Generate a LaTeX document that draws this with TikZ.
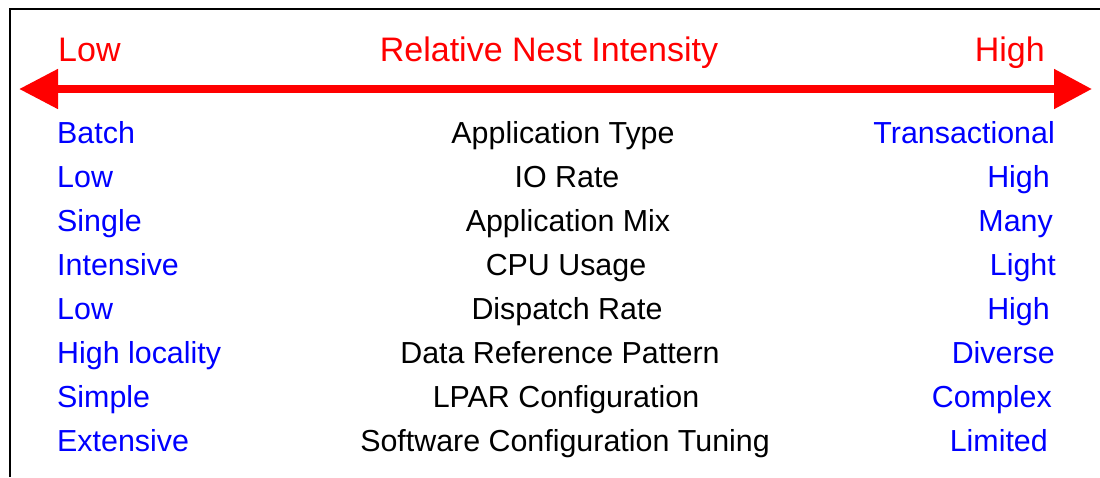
\documentclass[tikz,border=0pt]{standalone}
\usepackage{fontspec}
\setmainfont{Liberation Sans}
\usetikzlibrary{arrows.meta}
\definecolor{pureblue}{RGB}{0,0,255}
\definecolor{purered}{RGB}{255,0,0}
\tikzset{
  hdr/.style={inner sep=0pt, text=purered, font=\fontsize{34}{40}\selectfont},
  lft/.style={inner sep=0pt, anchor=base west, text=pureblue, font=\fontsize{30.4}{36}\selectfont},
  rgt/.style={inner sep=0pt, anchor=base east, text=pureblue, font=\fontsize{30.4}{36}\selectfont},
  mid/.style={inner sep=0pt, anchor=base, text=black, font=\fontsize{30.4}{36}\selectfont},
  bigarrow/.style={draw=purered, line width=8pt,
    {Triangle[length=39pt,width=38pt]}-{Triangle[length=38pt,width=38pt]}},
  frame/.style={draw=black, line width=2pt}
}
\begin{document}
\begin{tikzpicture}[x=1pt,y=-1pt]
\useasboundingbox (0,0) rectangle (1100,477);
\draw[frame] (10,477) -- (10,9) -- (1100,9);
% header
\node[hdr, anchor=base west] (hlow) at (58,61) {Low};
\node[hdr, anchor=base] (htitle) at (549,61) {Relative Nest Intensity};
\node[hdr, anchor=base east] (hhigh) at (1045,61) {High};
\coordinate (aL) at (19,89);
\coordinate (aR) at (1092,89);
\draw[bigarrow] (aL) -- (aR);
% rows
\node[lft] (l1) at (57,143) {Batch};
\node[mid] (m1) at (563,143) {Application Type};
\node[rgt] (r1) at (1055,143) {Transactional};
\node[lft] (l2) at (57,187) {Low};
\node[mid] (m2) at (567,187) {IO Rate};
\node[rgt] (r2) at (1050,187) {High};
\node[lft] (l3) at (57,231) {Single};
\node[mid] (m3) at (568,231) {Application Mix};
\node[rgt] (r3) at (1053,231) {Many};
\node[lft] (l4) at (57,275) {Intensive};
\node[mid] (m4) at (566,275) {CPU Usage};
\node[rgt] (r4) at (1056,275) {Light};
\node[lft] (l5) at (57,319) {Low};
\node[mid] (m5) at (567,319) {Dispatch Rate};
\node[rgt] (r5) at (1050,319) {High};
\node[lft] (l6) at (57,363) {High locality};
\node[mid] (m6) at (560,363) {Data Reference Pattern};
\node[rgt] (r6) at (1055,363) {Diverse};
\node[lft] (l7) at (57,407) {Simple};
\node[mid] (m7) at (566,407) {LPAR Configuration};
\node[rgt] (r7) at (1052,407) {Complex};
\node[lft] (l8) at (57,451) {Extensive};
\node[mid] (m8) at (565,451) {Software Configuration Tuning};
\node[rgt] (r8) at (1048,451) {Limited};
\end{tikzpicture}
\end{document}
